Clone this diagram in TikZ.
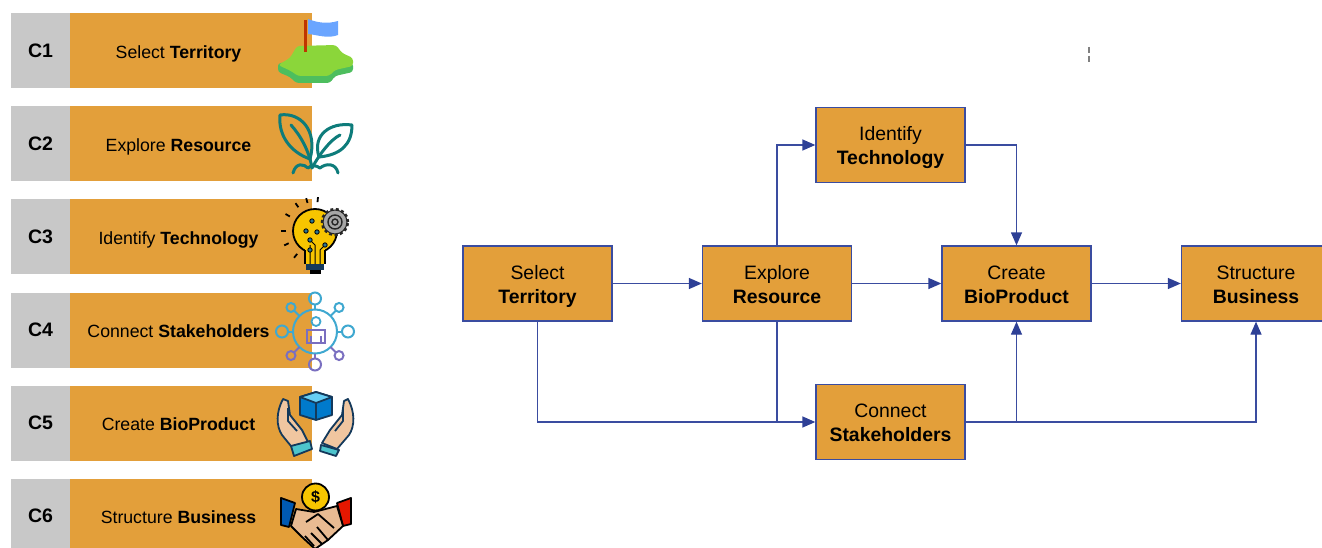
\documentclass[tikz,border=0pt]{standalone}
\usepackage{fontspec}
\setmainfont{Liberation Sans}
\usetikzlibrary{arrows.meta,positioning,calc}

\definecolor{boxorange}{HTML}{E39F3A}
\definecolor{rowgray}{HTML}{C8C8C8}
\definecolor{linkblue}{HTML}{3A4CA0}
\definecolor{tipblue}{HTML}{2E4096}
\definecolor{leafteal}{HTML}{0E7C7B}
\definecolor{netblue}{HTML}{3FA8D0}
\definecolor{netpurple}{HTML}{7A6FC0}
\definecolor{iconink}{HTML}{14395B}
\definecolor{skintone}{HTML}{F0C6A0}
\definecolor{islandtop}{HTML}{8BD63A}
\definecolor{islandside}{HTML}{4DBE5E}
\definecolor{flagblue}{HTML}{6AA5FF}
\definecolor{bulbyellow}{HTML}{F7C500}

\newcommand{\stagetext}[2]{\rule{0pt}{20.4pt}#1\\\textbf{#2}\rule[-5pt]{0pt}{5pt}}

\tikzset{
	stage/.style={draw=linkblue, line width=1.3pt, fill=boxorange, minimum width=149pt, minimum height=75pt, align=center, inner sep=0pt, font=\fontsize{19.4}{24}\selectfont},
	rowbar/.style={fill=boxorange, minimum width=242pt, minimum height=75pt, inner sep=0pt},
	rowtag/.style={fill=rowgray, minimum width=59pt, minimum height=75pt, inner sep=0pt, font=\fontsize{19.5}{20}\selectfont\bfseries},
	link/.style={draw=linkblue, line width=1.3pt},
	flow/.style={link, -{Triangle[length=13pt,width=11pt,color=tipblue]}},
}

\begin{document}
\begin{tikzpicture}[x=1pt,y=-1pt]
	\useasboundingbox (0,0) rectangle (1322,548);
	
	% Draw the rows of the list.
	\foreach \y/\ctag/\clabel in {50.5/C1/Select \textbf{Territory}, 143.5/C2/Explore \textbf{Resource}, 236.5/C3/Identify \textbf{Technology}, 330/C4/Connect \textbf{Stakeholders}, 423/C5/Create \textbf{BioProduct}, 516/C6/Structure \textbf{Business}}{
		\node[rowtag] (tag\ctag) at (40.5,\y) {\ctag};
		\node[rowbar, right=0pt of tag\ctag] (bar\ctag) {};
		\node (label\ctag) at (178.5,\y) {\fontsize{17.7}{20}\selectfont\rule[-4.4pt]{0pt}{24.4pt}\clabel};
	}
	
	% Draw the flag on its island.
	\fill[islandside, rounded corners=3pt] (278,63) -- (353,63) -- (353,72) -- (335,76) -- (330,83) -- (296,83) -- (290,77) -- (278,72) -- cycle;
	\fill[islandtop, rounded corners=3pt] (278,65) -- (290,58) -- (297,46) -- (336,45) -- (342,53) -- (353,58) -- (353,66) -- (335,70) -- (329,76) -- (298,76) -- (291,71) -- cycle;
	\draw[orange!55!red!75!black, line width=3pt] (305,20) -- (305,52);
	\fill[flagblue] (308,19) .. controls (318,23) and (328,24) .. (338,21) -- (338,35) .. controls (328,39) and (318,35) .. (308,34) -- cycle;
	
	% Draw the seedling.
	\begin{scope}[leafteal, line width=3pt, line cap=round, line join=round]
		\draw (280,115) .. controls (300,112) and (318,130) .. (310,159) .. controls (290,152) and (278,135) .. (280,115) -- cycle;
		\draw (352,125) .. controls (330,122) and (312,135) .. (319,157) .. controls (340,155) and (352,145) .. (352,125) -- cycle;
		\draw (291,125) .. controls (300,135) and (309,150) .. (312,168);
		\draw (340,135) .. controls (330,140) and (319,155) .. (312,168);
		\draw (293,173) .. controls (296,162) and (304,164) .. (308,168) .. controls (311,165) and (316,165) .. (320,168) .. controls (326,163) and (336,163) .. (338,173);
	\end{scope}
	
	% Draw the bulb and the gear.
	\filldraw[fill=bulbyellow, draw=black, line width=1.8pt] (315,231) circle (22pt);
	\fill[bulbyellow] (305,248) rectangle (325,264);
	\draw[black, line width=1.6pt] (305,250) -- (305,264) (325,250) -- (325,264);
	\fill[iconink] (306,264) rectangle (324,270);
	\fill[black] (310,270) rectangle (321,274);
	\draw[black, line width=1pt] (310,264) -- (310,245) (315,264) -- (315,245) -- (310,240) (320,264) -- (320,250) -- (325,245);
	\foreach \qx/\qy in {312/221, 306/231, 317/232, 310/240, 325/245, 310/250}{
		\filldraw[fill=netblue!70!black, draw=black, line width=0.8pt] (\qx,\qy) circle (2.2pt);
	}
	\filldraw[fill=gray!70!white, draw=gray!30!black, line width=1pt] (335,222) circle (12pt);
	\draw[gray!30!black, line width=2.5pt, dash pattern=on 3pt off 2.5pt] (335,222) circle (13pt);
	\draw[gray!30!black, line width=1.4pt] (335,222) circle (7pt) (335,222) circle (3pt);
	\foreach \qa in {85,105,125,150,180,205,232}{
		\draw[black, line width=1.8pt] ($(315,231)+(\qa:29pt)$) -- ($(315,231)+(\qa:34pt)$);
	}
	
	% Draw the network of people.
	\draw[netblue, line width=2pt] (315,331.5) circle (22pt);
	\foreach \qa/\qb/\qr/\qcol in {90/27/6/netblue, 45/29.5/4.5/netblue, 0/27/6/netblue, 135/29.5/4.5/netblue, 180/27/6/netblue, 225/29.5/4.5/netpurple, 270/27/6/netpurple, 315/29.5/4.5/netpurple}{
		\draw[\qcol, line width=2pt] ($(315,331.5)+(\qa:22pt)$) -- ($(315,331.5)+(\qa:\qb pt)$);
		\draw[\qcol, line width=2pt] ($(315,331.5)+(\qa:\qb pt+\qr pt)$) circle (\qr pt);
	}
	\draw[netblue, line width=1.8pt] (316,321.5) circle (4.5pt);
	\draw[netpurple, line width=1.8pt] (307,343) -- (307,330) -- (325,330) -- (325,343) -- cycle (311,343) -- (311,336) (321,343) -- (321,336);
	
	% Draw the hands and the cube.
	\begin{scope}[line width=1.8pt, draw=iconink, line join=round]
		\filldraw[fill=blue!40!cyan!80!black] (316,392) -- (332,397) -- (332,415) -- (316,420) -- (300,415) -- (300,397) -- cycle;
		\filldraw[fill=cyan!60!white] (316,392) -- (332,397) -- (316,403) -- (300,397) -- cycle;
		\draw (316,403) -- (316,420);
		\filldraw[fill=skintone] (283,399) .. controls (276,412) and (276,426) .. (282,435) -- (295,451) -- (309,444) -- (302,430) -- (290,415) -- (288,401) -- cycle;
		\filldraw[fill=skintone] (348,399) .. controls (355,412) and (355,426) .. (349,435) -- (337,449) -- (322,443) -- (330,430) -- (342,415) -- (344,401) -- cycle;
		\draw (288,408) -- (288,421) -- (297,431) (343,408) -- (343,421) -- (335,431);
		\filldraw[fill=cyan!70!green!70!white] (291,446) -- (310,441) -- (312,449) -- (294,456) -- cycle;
		\filldraw[fill=cyan!70!green!70!white] (321,445) -- (339,450) -- (336,456) -- (320,451) -- cycle;
	\end{scope}
	
	% Draw the handshake and the coin.
	\begin{scope}[line width=1.8pt, draw=black, line join=round]
		\filldraw[fill=blue!50!cyan!70!black] (281,498) -- (295,503) -- (289,527) -- (281,525) -- cycle;
		\filldraw[fill=red!80!orange!90!black] (351,498) -- (337,503) -- (343,526) -- (351,524) -- cycle;
		\filldraw[fill=skintone!85!brown] (296,509) -- (314,512) -- (337,506) -- (343,526) -- (328,540) -- (315,549) -- (302,537) -- (291,526) -- cycle;
		\draw (306,522) -- (318,514) -- (334,528) (317,527) -- (328,540) (311,533) -- (322,544) (305,536) -- (314,546);
		\filldraw[fill=bulbyellow] (315.5,497) circle (13.5pt);
	\end{scope}
	\node[font=\fontsize{16}{16}\selectfont\bfseries, inner sep=0pt] (coin) at (315.5,497) {\$};
	
	% Draw the stages of the flow.
	\node[stage] (select) at (537.5,283.5) {\stagetext{Select}{Territory}};
	\node[stage] (explore) at (777,283.5) {\stagetext{Explore}{Resource}};
	\node[stage] (create) at (1016.5,283.5) {\stagetext{Create}{BioProduct}};
	\node[stage] (structure) at (1256,283.5) {\stagetext{Structure}{Business}};
	\node[stage] (identify) at (890.5,145) {\stagetext{Identify}{Technology}};
	\node[stage] (connect) at (890.5,422) {\stagetext{Connect}{Stakeholders}};
	
	% Draw the links between the stages.
	\draw[flow] (select) -- (explore);
	\draw[flow] (explore) -- (create);
	\draw[flow] (create) -- (structure);
	\draw[flow] (explore.north) |- (identify.west);
	\draw[flow] (identify.east) -| (create.north);
	\draw[flow] (select.south) |- (connect.west);
	\draw[link] (explore.south) -- (explore.south |- connect.west);
	\draw[flow] (connect.east) -| (structure.south);
	\draw[flow] (connect.east -| create.south) -- (create.south);
	
	% Draw the stray mark.
	\coordinate (marktop) at (1089,47);
	\coordinate (markend) at (1089,63);
	\draw[gray, line width=1.2pt, dash pattern=on 6pt off 3pt] (marktop) -- (markend);
\end{tikzpicture}
\end{document}
